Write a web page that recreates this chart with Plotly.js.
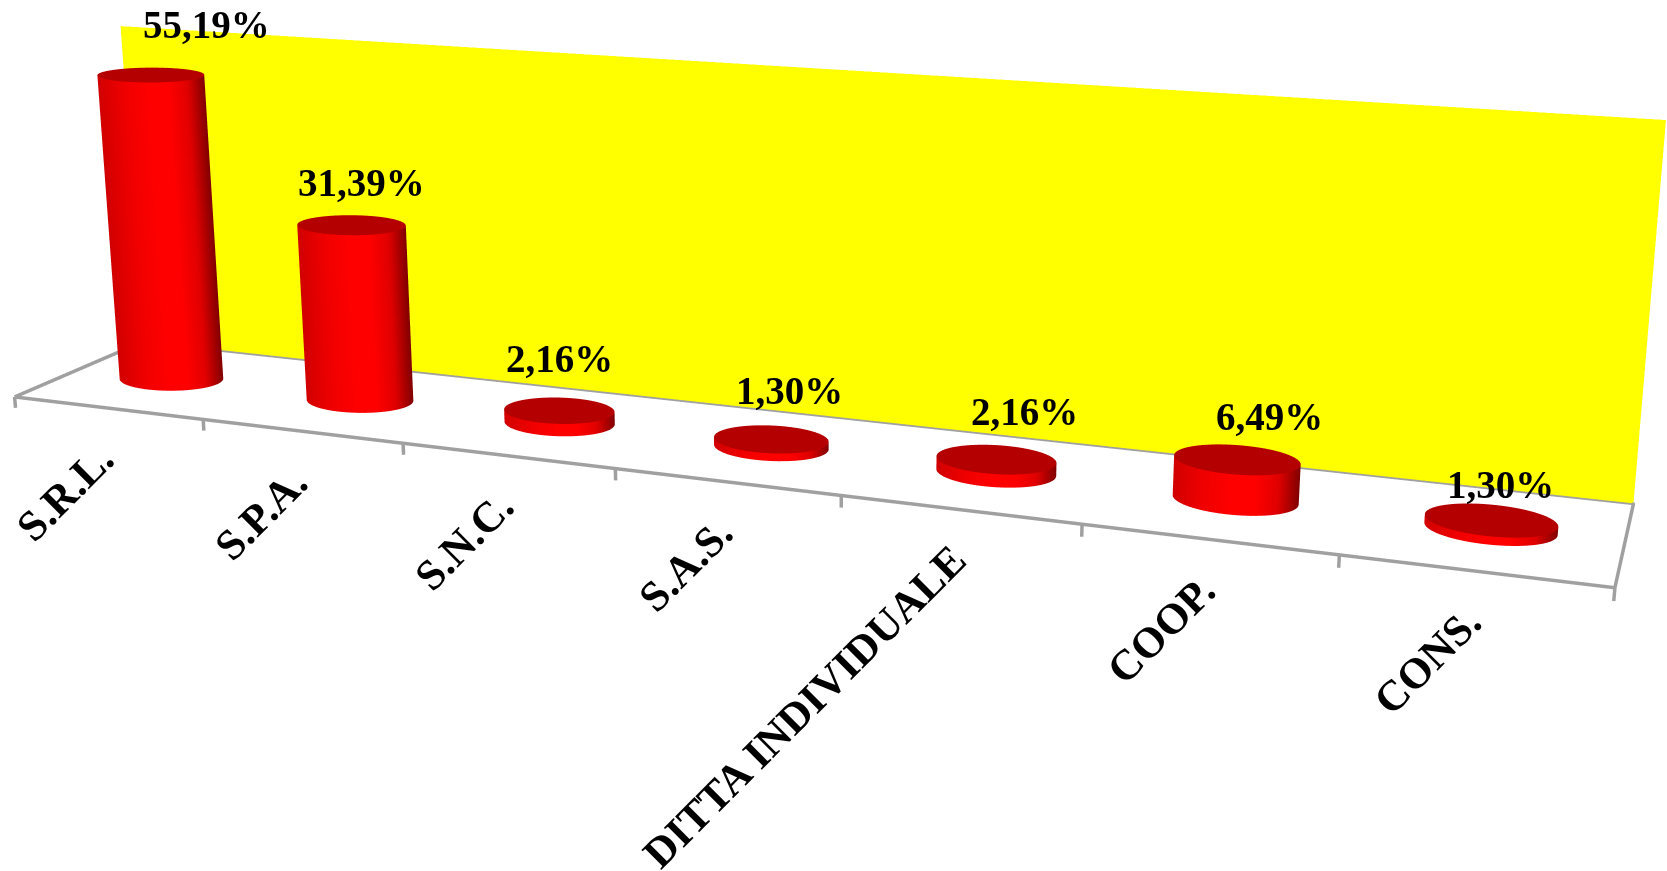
<!DOCTYPE html>
<html><head><meta charset="utf-8"><script src="https://cdn.plot.ly/plotly-3.0.1.min.js"></script>
<style>html,body{margin:0;padding:0;background:#fff;overflow:hidden;width:1667px;height:871px}#c{position:absolute;left:-43px;top:-760px;width:1712px;height:2173px}</style></head>
<body><div id="c"></div>
<script>
const categories=['S.R.L.','S.P.A.','S.N.C.','S.A.S.','DITTA INDIVIDUALE','COOP.','CONS.'];
const values=[55.19,31.39,2.16,1.30,2.16,6.49,1.30];
const wallTop=60;
const valueShiftX=[56,10,0,18,28,32,9];
const valueShiftY=[27,19,29,25,24,20,12];
const ZMIN=-3;
const eye={x:.5592,y:-1.4196,z:.3836},aspect={x:1,y:.1434,z:.2329};
const N=96,RX=.252,RY=.19;
const n=categories.length;
const X=[],Y=[],Z=[],I=[],J=[],K=[],C=[];
const stops=[[0,.82],[.25,.94],[.48,1],[.65,1],[.83,.88],[.94,.63],[1,.5]];
function shade(t){for(let i=1;i<stops.length;i++)if(t<=stops[i][0]){const g=stops[i-1][1]+(stops[i][1]-stops[i-1][1])*(t-stops[i-1][0])/(stops[i][0]-stops[i-1][0]);return 'rgb('+Math.round(255*g)+',0,0)';}return 'rgb(128,0,0)';}
values.forEach((v,c)=>{const cx=c+.5,cy=.5;const b=X.length;
 const mx=(cx/n-.5)*aspect.x,rx=RX/n*aspect.x,ry=RY*aspect.y;
 const dx=eye.x-mx,dy=eye.y,L=Math.hypot(dx,dy),sx=-dy/L,sy=dx/L,mxd=Math.hypot(rx*sx,ry*sy);
 for(let a=0;a<=N;a++){const th=2*Math.PI*a/N,t=((rx*Math.cos(th)*sx+ry*Math.sin(th)*sy)/mxd+1)/2;[0,v].forEach(z=>{X.push(cx+RX*Math.cos(th));Y.push(cy+RY*Math.sin(th));Z.push(z);C.push(shade(t));});}
 for(let a=0;a<N;a++){const q=b+2*a;I.push(q,q+1);J.push(q+1,q+3);K.push(q+2,q+2);}
 const o=X.length;X.push(cx);Y.push(cy);Z.push(v);C.push('#b40000');
 for(let a=0;a<=N;a++){const th=2*Math.PI*a/N;X.push(cx+RX*Math.cos(th));Y.push(cy+RY*Math.sin(th));Z.push(v);C.push('#b40000');}
 for(let a=0;a<N;a++){I.push(o);J.push(o+1+a);K.push(o+2+a);}
});
const flat={ambient:1,diffuse:0,specular:0,fresnel:0,roughness:1};
const lineStyle={color:'#a0a0a0',width:7};
const traces=[
{type:'mesh3d',x:[0,n,n,0],y:[1,1,1,1],z:[0,0,wallTop,wallTop],i:[0,0],j:[1,2],k:[2,3],color:'#ffff00',lighting:flat,hoverinfo:'skip'},
{type:'mesh3d',x:X,y:Y,z:Z,i:I,j:J,k:K,vertexcolor:C,lighting:flat,hoverinfo:'skip'},
{type:'scatter3d',mode:'lines',x:[0,n,n,0,0],y:[0,0,1,1,0],z:[0,0,0,0,0],line:lineStyle,hoverinfo:'skip'},
];
for(let i=0;i<=n;i++)traces.push({type:'scatter3d',mode:'lines',x:[i,i],y:[0,0],z:[0,-2],line:lineStyle,hoverinfo:'skip'});
const ann=[];
values.forEach((v,i)=>ann.push({x:i+.5,y:.5,z:v,text:'<b>'+v.toFixed(2).replace('.',',')+'%</b>',showarrow:false,yanchor:'bottom',xshift:valueShiftX[i],yshift:valueShiftY[i],font:{family:'"Liberation Serif"',size:39,color:'#000'}}));
categories.forEach((c,i)=>ann.push({x:i+.5,y:0,z:0,text:'<b>'+c+'</b>',showarrow:false,textangle:-45,xanchor:'right',yanchor:'top',yshift:-24,xshift:18,font:{family:'"Liberation Serif"',size:43,color:'#000'}}));
const ax={visible:false,showgrid:false,zeroline:false,showspikes:false,showbackground:false,showticklabels:false,title:{text:''}};
Plotly.newPlot('c',traces,{width:1712,height:2173,margin:{l:0,r:0,t:0,b:0},paper_bgcolor:'#fff',showlegend:false,
 scene:{domain:{x:[0,1],y:[0,1]},aspectmode:'manual',aspectratio:aspect,
 camera:{eye:eye,center:{x:.0266,y:.002,z:-.0274},up:{x:.0554,y:-.1439,z:1},projection:{type:'perspective'}},
 xaxis:{...ax,range:[0,n]},yaxis:{...ax,range:[0,1]},zaxis:{...ax,range:[ZMIN,wallTop]},annotations:ann}},{displayModeBar:false});
</script></body></html>
